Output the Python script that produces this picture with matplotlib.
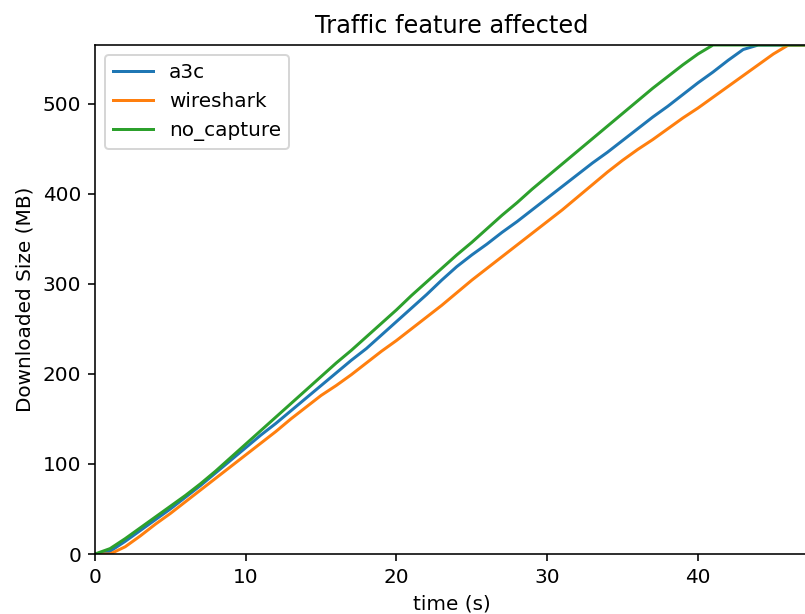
import numpy as np
import matplotlib
matplotlib.use("Agg")
import matplotlib.pyplot as plt

# time in seconds, downloaded size in MB
time_s = list(range(0, 48))

a3c = [0, 3, 14, 26, 38, 50, 63, 76, 90, 104, 118, 132, 145, 159, 173, 187,
       201, 215, 228, 243, 258, 273, 288, 304, 319, 332, 344, 357, 369, 382,
       395, 408, 421, 434, 446, 459, 472, 485, 497, 510, 523, 535, 548, 560,
       565, 565, 565, 565]

wireshark = [0, 0, 8, 20, 33, 45, 58, 71, 84, 97, 110, 123, 136, 150, 163, 176,
             187, 199, 212, 225, 237, 250, 263, 276, 290, 304, 317, 330, 343, 356,
             369, 382, 396, 410, 424, 437, 449, 460, 472, 484, 495, 507, 519, 531,
             543, 555, 565, 565]

no_capture = [0, 6, 17, 29, 41, 53, 65, 78, 92, 107, 122, 137, 152, 167, 182, 197,
              212, 226, 241, 256, 271, 287, 302, 317, 332, 346, 361, 376, 390, 405,
              419, 433, 447, 461, 475, 489, 503, 517, 530, 543, 555, 565, 565, 565,
              565, 565, 565, 565]

series = {"a3c": a3c, "wireshark": wireshark, "no_capture": no_capture}

fig = plt.figure(figsize=(805 / 144, 614 / 144), dpi=144)
ax = fig.add_axes([95 / 805, 60 / 614, 713 / 805, 509 / 614])

for name, values in series.items():
    ax.plot(time_s, values, label=name)

ax.set_xlim(0, 47.3)
ax.set_ylim(0, 565)
ax.set_title("Traffic feature affected")
ax.set_xlabel("time (s)")
ax.set_ylabel("Downloaded Size (MB)")
ax.legend(loc="upper left")

fig.savefig("out.png", dpi=144)
